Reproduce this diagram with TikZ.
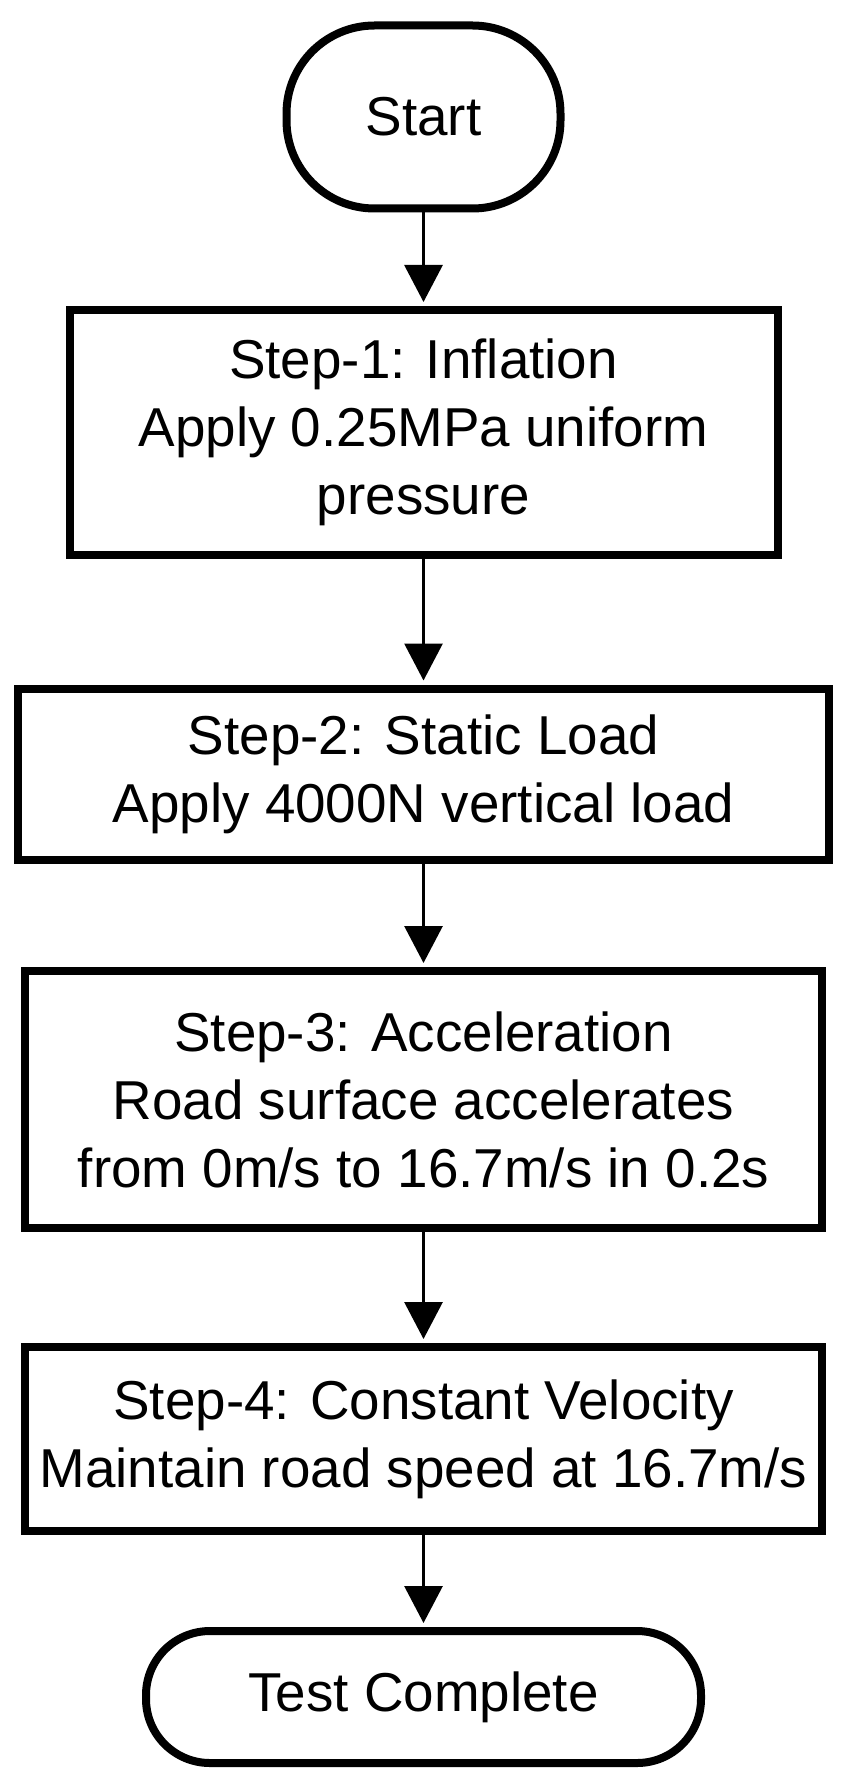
\documentclass[tikz,border=0pt]{standalone}
\usepackage{fontspec}
\setsansfont{Liberation Sans}
\usetikzlibrary{arrows.meta}

\begin{document}
\begin{tikzpicture}[
  x=0.5pt, y=-0.5pt,
  font=\sffamily\fontsize{27.4pt}{34pt}\selectfont,
  >={Triangle[length=18.5pt, width=19pt]},
  term/.style={rectangle, draw, line width=4pt, align=center, inner sep=0pt},
  stage/.style={rectangle, draw, line width=4pt, align=center, inner sep=0pt},
  flow/.style={->, line width=1.5pt, shorten >=2pt},
]

% ===== Canvas ===============================================================
\fill[white] (0,0) rectangle (840,1781);

% ===== Terminals and stages =================================================
\node[term, rounded corners=44pt, minimum width=137pt, minimum height=91.5pt] (start) at (423.5,117)
  {Start};

\node[stage, minimum width=354pt, minimum height=122.5pt] (inflate) at (423.5,432.5)
  {Step-1: Inflation\\Apply 0.25MPa uniform\\pressure};

\node[stage, minimum width=405.5pt, minimum height=85.5pt] (load) at (423.5,774)
  {Step-2: Static Load\\Apply 4000N vertical load};

\node[stage, minimum width=398.5pt, minimum height=128.5pt] (accel) at (423.5,1099.5)
  {Step-3: Acceleration\\Road surface accelerates\\from 0m/s to 16.7m/s in 0.2s};

\node[stage, minimum width=398.5pt, minimum height=92pt] (cruise) at (423.5,1439)
  {Step-4: Constant Velocity\\Maintain road speed at 16.7m/s};

\node[term, rounded corners=32pt, minimum width=277.5pt, minimum height=66pt] (done) at (423.5,1697)
  {Test Complete};

% ===== Flow arrows ==========================================================
\draw[flow] (start.south) -- (inflate.north);
\draw[flow] (inflate.south) -- (load.north);
\draw[flow] (load.south) -- (accel.north);
\draw[flow] (accel.south) -- (cruise.north);
\draw[flow] (cruise.south) -- (done.north);

\end{tikzpicture}
\end{document}
